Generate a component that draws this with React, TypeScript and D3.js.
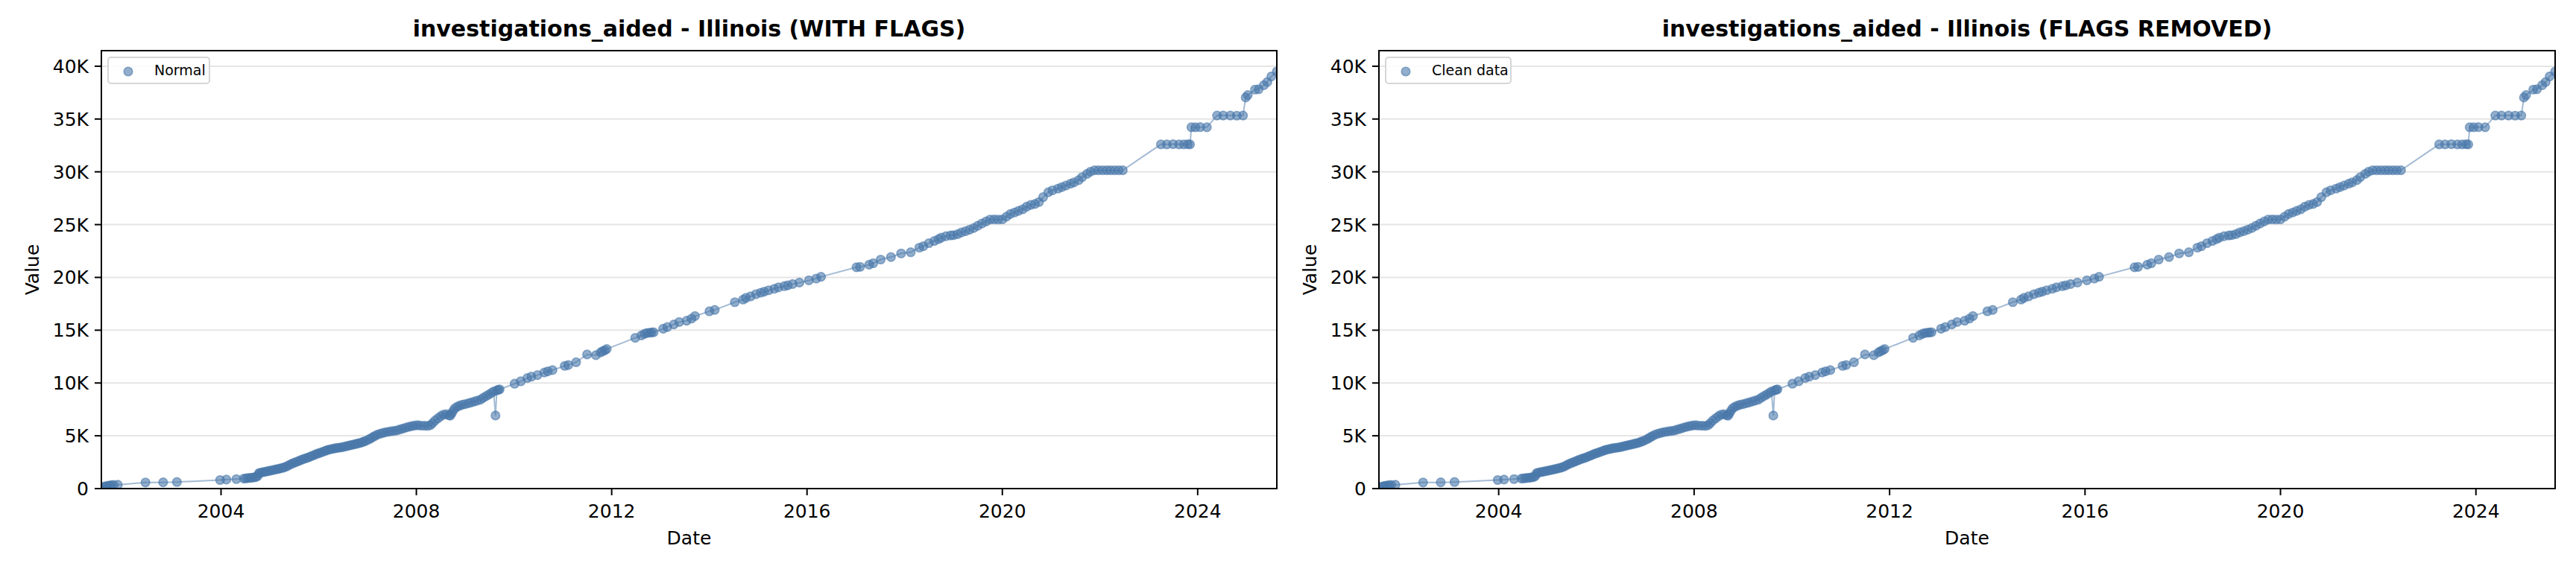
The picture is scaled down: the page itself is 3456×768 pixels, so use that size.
import React from "react";
import * as d3 from "d3";

const dates: string[] = [
  "2001-07-20","2001-08-10","2001-08-25","2001-09-05","2001-09-20","2001-10-05","2001-10-20","2001-11-20",
  "2002-06-15","2002-10-25","2003-02-05","2003-12-25","2004-02-10","2004-04-25",
  "2004-06-20","2004-07-05","2004-07-20","2004-08-05","2004-08-20","2004-09-05","2004-09-20","2004-10-01",
  "2004-10-10","2004-10-20","2004-11-05","2004-11-20","2004-12-05","2004-12-20",
  "2005-01-05","2005-01-20","2005-02-05","2005-02-20","2005-03-05","2005-03-20","2005-04-05","2005-04-20",
  "2005-05-05","2005-05-20","2005-06-05","2005-06-20","2005-07-05","2005-07-20","2005-08-05","2005-08-20",
  "2005-09-05","2005-09-20","2005-10-05","2005-10-20","2005-11-05","2005-11-20","2005-12-05","2005-12-20",
  "2006-01-05","2006-01-20","2006-02-05","2006-02-20","2006-03-05","2006-03-20","2006-04-05","2006-04-20",
  "2006-05-05","2006-05-20","2006-06-05","2006-06-20","2006-07-05","2006-07-20","2006-08-05","2006-08-20",
  "2006-09-05","2006-09-20","2006-10-05","2006-10-20","2006-11-05","2006-11-20","2006-12-05","2006-12-20",
  "2007-01-10","2007-01-25","2007-02-10","2007-02-25","2007-03-15","2007-04-05","2007-04-25","2007-05-15",
  "2007-06-05","2007-06-25","2007-07-15","2007-08-05","2007-08-25","2007-09-15","2007-10-05","2007-10-25",
  "2007-11-15","2007-12-05","2007-12-25","2008-01-15","2008-02-05","2008-03-01","2008-03-25","2008-04-15",
  "2008-05-01","2008-05-20","2008-06-10","2008-07-01","2008-07-20","2008-08-10","2008-09-01","2008-09-10",
  "2008-09-20","2008-10-01","2008-10-15","2008-11-01","2008-11-20","2008-12-10","2009-01-01","2009-01-25",
  "2009-02-15","2009-03-10","2009-04-01","2009-04-25","2009-05-15","2009-06-05","2009-06-25","2009-07-15",
  "2009-08-01","2009-08-15","2009-08-25","2009-09-05","2009-09-15",
  "2010-01-05","2010-02-20","2010-04-10","2010-05-10","2010-06-25","2010-08-15","2010-09-10","2010-10-15",
  "2011-01-15","2011-02-10","2011-04-10","2011-07-01","2011-09-05","2011-10-10","2011-10-25","2011-11-10",
  "2011-11-25","2012-06-25","2012-08-10","2012-09-01","2012-09-20","2012-10-10","2012-10-25","2012-11-10",
  "2013-01-20","2013-02-20","2013-04-10","2013-05-20","2013-07-15","2013-08-20","2013-09-15",
  "2014-01-01","2014-02-10","2014-07-10","2014-09-10","2014-10-01","2014-11-05","2014-12-15",
  "2015-01-20","2015-02-15","2015-03-20","2015-05-01","2015-06-01","2015-07-15","2015-08-10","2015-09-15",
  "2015-11-05","2016-01-15","2016-03-10","2016-04-15",
  "2017-01-05","2017-02-01","2017-04-10","2017-05-10","2017-07-05","2017-09-20","2017-12-05",
  "2018-02-15","2018-04-20","2018-05-20","2018-07-01","2018-08-10","2018-09-10","2018-10-01","2018-11-05",
  "2018-12-10","2019-01-01","2019-02-01","2019-03-01","2019-04-01","2019-05-01","2019-06-01","2019-07-01",
  "2019-08-01","2019-09-01","2019-10-01","2019-11-01","2019-12-01","2020-01-01","2020-02-01","2020-03-01",
  "2020-04-01","2020-05-01","2020-06-01","2020-07-01","2020-08-01","2020-09-01","2020-10-01","2020-11-01",
  "2020-12-10","2021-01-10","2021-02-20","2021-03-20","2021-04-20","2021-05-25","2021-06-20","2021-07-25",
  "2021-08-20","2021-09-25","2021-10-20","2021-11-20","2021-12-20","2022-01-20","2022-02-20","2022-03-20",
  "2022-04-20","2022-05-20","2022-06-20",
  "2023-04-01","2023-05-15","2023-07-01","2023-08-15","2023-09-20","2023-10-20","2023-11-05",
  "2023-11-15","2023-12-15","2024-01-20","2024-03-10",
  "2024-05-25","2024-07-10","2024-09-01","2024-10-20","2024-12-05",
  "2024-12-25","2025-01-10","2025-03-05","2025-04-01","2025-05-10","2025-06-05","2025-07-05","2025-08-15",
];

const values: number[] = [
  120,180,220,260,300,320,340,360,
  580,590,620,810,850,900,
  950,970,990,1010,1030,1060,1100,1200,
  1450,1500,1540,1580,1620,1660,
  1700,1740,1790,1830,1870,1910,1960,2020,
  2100,2200,2300,2390,2460,2540,2620,2700,
  2780,2850,2900,2980,3060,3140,3220,3300,
  3360,3430,3510,3580,3640,3700,3740,3780,
  3820,3850,3880,3910,3950,3990,4040,4090,
  4140,4180,4220,4270,4320,4380,4450,4530,
  4650,4760,4880,4990,5100,5200,5270,5330,
  5380,5430,5460,5500,5580,5650,5730,5820,
  5880,5930,5980,6000,5960,5950,5940,6000,
  6200,6450,6650,6850,7000,7050,6950,6900,
  7100,7350,7600,7750,7850,7950,8000,8080,
  8150,8250,8330,8420,8600,8750,8900,9050,
  9200,6920,9300,9350,9400,
  9930,10160,10470,10600,10750,10990,11100,11220,
  11620,11700,11970,12700,12630,12900,13000,13100,
  13220,14270,14500,14650,14740,14760,14790,14800,
  15140,15300,15550,15770,15900,16100,16340,
  16790,16920,17650,17900,18060,18200,18410,
  18550,18650,18780,18920,19050,19170,19250,19370,
  19510,19720,19890,20060,
  20960,21000,21200,21340,21690,21930,22270,
  22380,22820,22950,23240,23450,23620,23760,23900,
  23980,24000,24100,24250,24380,24520,24680,24890,
  25100,25300,25480,25500,25480,25500,25750,26000,
  26150,26300,26450,26700,26870,26950,27140,27600,
  28070,28250,28410,28550,28700,28870,29000,29210,
  29500,29800,30000,30140,30150,30140,30150,30140,
  30150,30140,30150,
  32600,32600,32620,32600,32600,32610,32600,
  34220,34220,34230,34220,
  35330,35330,35330,35320,35330,
  37040,37270,37790,37820,38200,38500,39030,39500,
];

const yTicks: number[] = [0, 5000, 10000, 15000, 20000, 25000, 30000, 35000, 40000];
const panelTitles: string[] = [
  "investigations_aided - Illinois (WITH FLAGS)",
  "investigations_aided - Illinois (FLAGS REMOVED)",
];
const legendLabels: string[] = ["Normal", "Clean data"];

const parse = d3.timeParse("%Y-%m-%d");
const points = dates.map((d, i) => ({ date: parse(d) as Date, value: values[i] }));

const COLOR = "#4a78aa";
const FONT = "DejaVu Sans, sans-serif";
const R = 5.8;

function fmtY(v: number) {
  return v === 0 ? "0" : `${v / 1000}K`;
}

function Panel({ left, width, title, legend, legendW }: { left: number; width: number; title: string; legend: string; legendW: number }) {
  const top = 68;
  const bottom = 656;
  const x = d3.scaleTime().domain(d3.extent(points, (p) => p.date) as [Date, Date]).range([left, left + width]);
  const yMax = (d3.max(points, (p) => p.value) as number) * 1.05;
  const y = d3.scaleLinear().domain([0, yMax]).range([bottom, top]);
  const line = d3.line<{ date: Date; value: number }>().x((p) => x(p.date)).y((p) => y(p.value));
  const xTicks = x.ticks(d3.timeYear.every(4) as any);
  const clipId = `clip-${left}`;
  const cx = left + width / 2;
  return (
    <g>
      <defs>
        <clipPath id={clipId}>
          <rect x={left} y={top} width={width} height={bottom - top} />
        </clipPath>
      </defs>
      {yTicks.map((t) => (
        <line key={t} x1={left} x2={left + width} y1={y(t)} y2={y(t)} stroke="#e5e5e5" strokeWidth={2} />
      ))}
      <g clipPath={`url(#${clipId})`}>
        <path d={line(points) || ""} fill="none" stroke={COLOR} strokeOpacity={0.5} strokeWidth={2} />
        {points.map((p, i) => (
          <circle key={i} cx={x(p.date)} cy={y(p.value)} r={R} fill={COLOR} fillOpacity={0.6} stroke={COLOR} strokeOpacity={0.6} strokeWidth={1.6} />
        ))}
      </g>
      <rect x={left} y={top} width={width} height={bottom - top} fill="none" stroke="#000" strokeWidth={2} />
      {yTicks.map((t) => (
        <g key={t}>
          <line x1={left - 9} x2={left} y1={y(t)} y2={y(t)} stroke="#000" strokeWidth={2} />
          <text x={left - 17} y={y(t)} dy="0.36em" textAnchor="end" fontSize={25} fontFamily={FONT} fill="#000">
            {fmtY(t)}
          </text>
        </g>
      ))}
      {xTicks.map((t) => (
        <g key={+t}>
          <line x1={x(t)} x2={x(t)} y1={bottom} y2={bottom + 9} stroke="#000" strokeWidth={2} />
          <text x={x(t)} y={695} textAnchor="middle" fontSize={25} fontFamily={FONT} fill="#000">
            {d3.timeFormat("%Y")(t)}
          </text>
        </g>
      ))}
      <text x={cx} y={731} textAnchor="middle" fontSize={25} fontFamily={FONT} fill="#000">Date</text>
      <text transform={`translate(${left - 84},${(top + bottom) / 2}) rotate(-90)`} textAnchor="middle" fontSize={25} fontFamily={FONT} fill="#000">Value</text>
      <text x={cx} y={49} textAnchor="middle" fontSize={30} fontWeight="bold" fontFamily={FONT} fill="#000">{title}</text>
      <rect x={left + 9} y={top + 9} width={legendW} height={35} rx={4} fill="#fff" fillOpacity={0.85} stroke="#d6d6d6" strokeWidth={2} />
      <circle cx={left + 36} cy={top + 28} r={R} fill={COLOR} fillOpacity={0.6} stroke={COLOR} strokeOpacity={0.6} strokeWidth={1.6} />
      <text x={left + 71} y={top + 33} fontSize={19} fontFamily={FONT} fill="#000">{legend}</text>
    </g>
  );
}

export default function App() {
  return (
    <svg width={3456} height={768} style={{ position: "absolute", left: 0, top: 0, background: "#fff" }}>
      <rect width={3456} height={768} fill="#fff" />
      <Panel left={136} width={1577} title={panelTitles[0]} legend={legendLabels[0]} legendW={136} />
      <Panel left={1850} width={1578} title={panelTitles[1]} legend={legendLabels[1]} legendW={168} />
    </svg>
  );
}
